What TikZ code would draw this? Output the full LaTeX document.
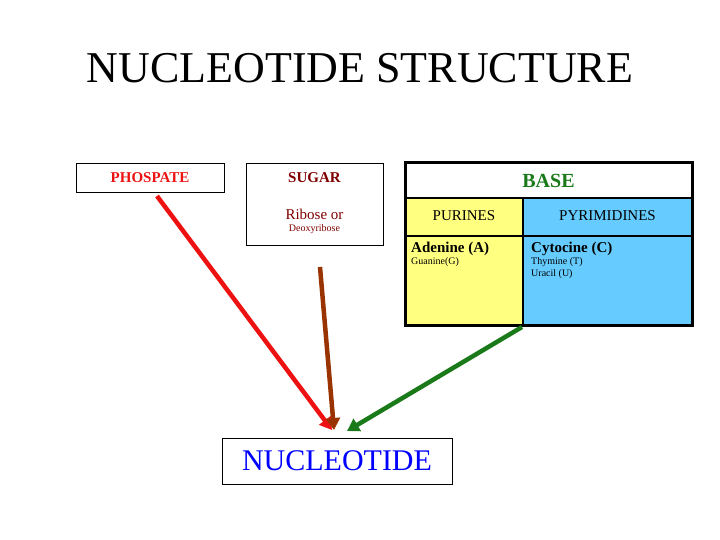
\documentclass[tikz,border=0pt]{standalone}
\usepackage{fontspec}
\setmainfont{Liberation Serif}
\usetikzlibrary{arrows.meta}
\definecolor{dred}{HTML}{800000}
\definecolor{pyel}{HTML}{FFFF80}
\definecolor{pblue}{HTML}{66CCFF}
\definecolor{pgreen}{HTML}{1A7A1A}
\definecolor{pbrown}{HTML}{993300}
\definecolor{pred}{HTML}{EE1111}
\begin{document}
\begin{tikzpicture}[x=1pt,y=-1pt,
  box/.style={draw=black,line width=0.6pt,fill=white},
  cell/.style={draw=black,line width=1.5pt,inner sep=0pt},
  arr/.style={line width=4.5pt,-{Triangle[length=12pt,width=14pt]}}]
\useasboundingbox (0,0) rectangle (720,540);
\node (title) at (360,68) {\fontsize{44}{48}\selectfont NUCLEOTIDE STRUCTURE};
% phosphate
\node[box,minimum width=148pt,minimum height=29pt] (phos) at (150,177.5) {};
\node[text=pred] (phost) at (150,177.5) {\fontsize{15}{17}\selectfont\bfseries PHOSPATE};
% sugar
\node[box,minimum width=137pt,minimum height=82pt] (sug) at (314.5,204) {};
\node[text=dred] (sugt) at (314.5,178) {\fontsize{15}{17}\selectfont\bfseries SUGAR};
\node[text=dred,align=center] (ribt) at (314.5,221) {\fontsize{15}{21}\selectfont Ribose or\\Deoxyribose};
% base table
\fill[white] (405,163) rectangle (692,198);
\fill[pyel] (405,198) rectangle (523,325);
\fill[pblue] (523,198) rectangle (692,325);
\draw[line width=1.5pt] (405,198) -- (692,198) (405,236) -- (692,236) (523,198) -- (523,325);
\draw[line width=3pt] (405,163) rectangle (692,325);
\node[text=pgreen] (baset) at (548.5,181) {\fontsize{20}{22}\selectfont\bfseries BASE};
\node (pur) at (464,216) {\fontsize{15}{17}\selectfont PURINES};
\node (pyr) at (607.5,216) {\fontsize{15}{17}\selectfont PYRIMIDINES};
\node[align=left,anchor=north west,inner sep=0pt] (purl) at (411,242) {\fontsize{15}{24}\selectfont\bfseries Adenine (A)\\Guanine(G)};
\node[align=left,anchor=north west,inner sep=0pt] (pyrl) at (531,242) {\fontsize{15}{24}\selectfont\bfseries Cytocine (C)\\Thymine (T)\\Uracil (U)};
% nucleotide
\node[box,minimum width=230pt,minimum height=46pt,text=blue] (nuc) at (337,461) {\fontsize{30}{32}\selectfont NUCLEOTIDE};
\coordinate (rs) at (157,196);
\coordinate (re) at (332,430);
\coordinate (bs) at (320,267);
\coordinate (be) at (334,430);
\coordinate (gs) at (522,327);
\coordinate (ge) at (347,431);
\draw[arr,pred] (rs) -- (re);
\draw[arr,pbrown] (bs) -- (be);
\draw[arr,pgreen] (gs) -- (ge);
\end{tikzpicture}
\end{document}
